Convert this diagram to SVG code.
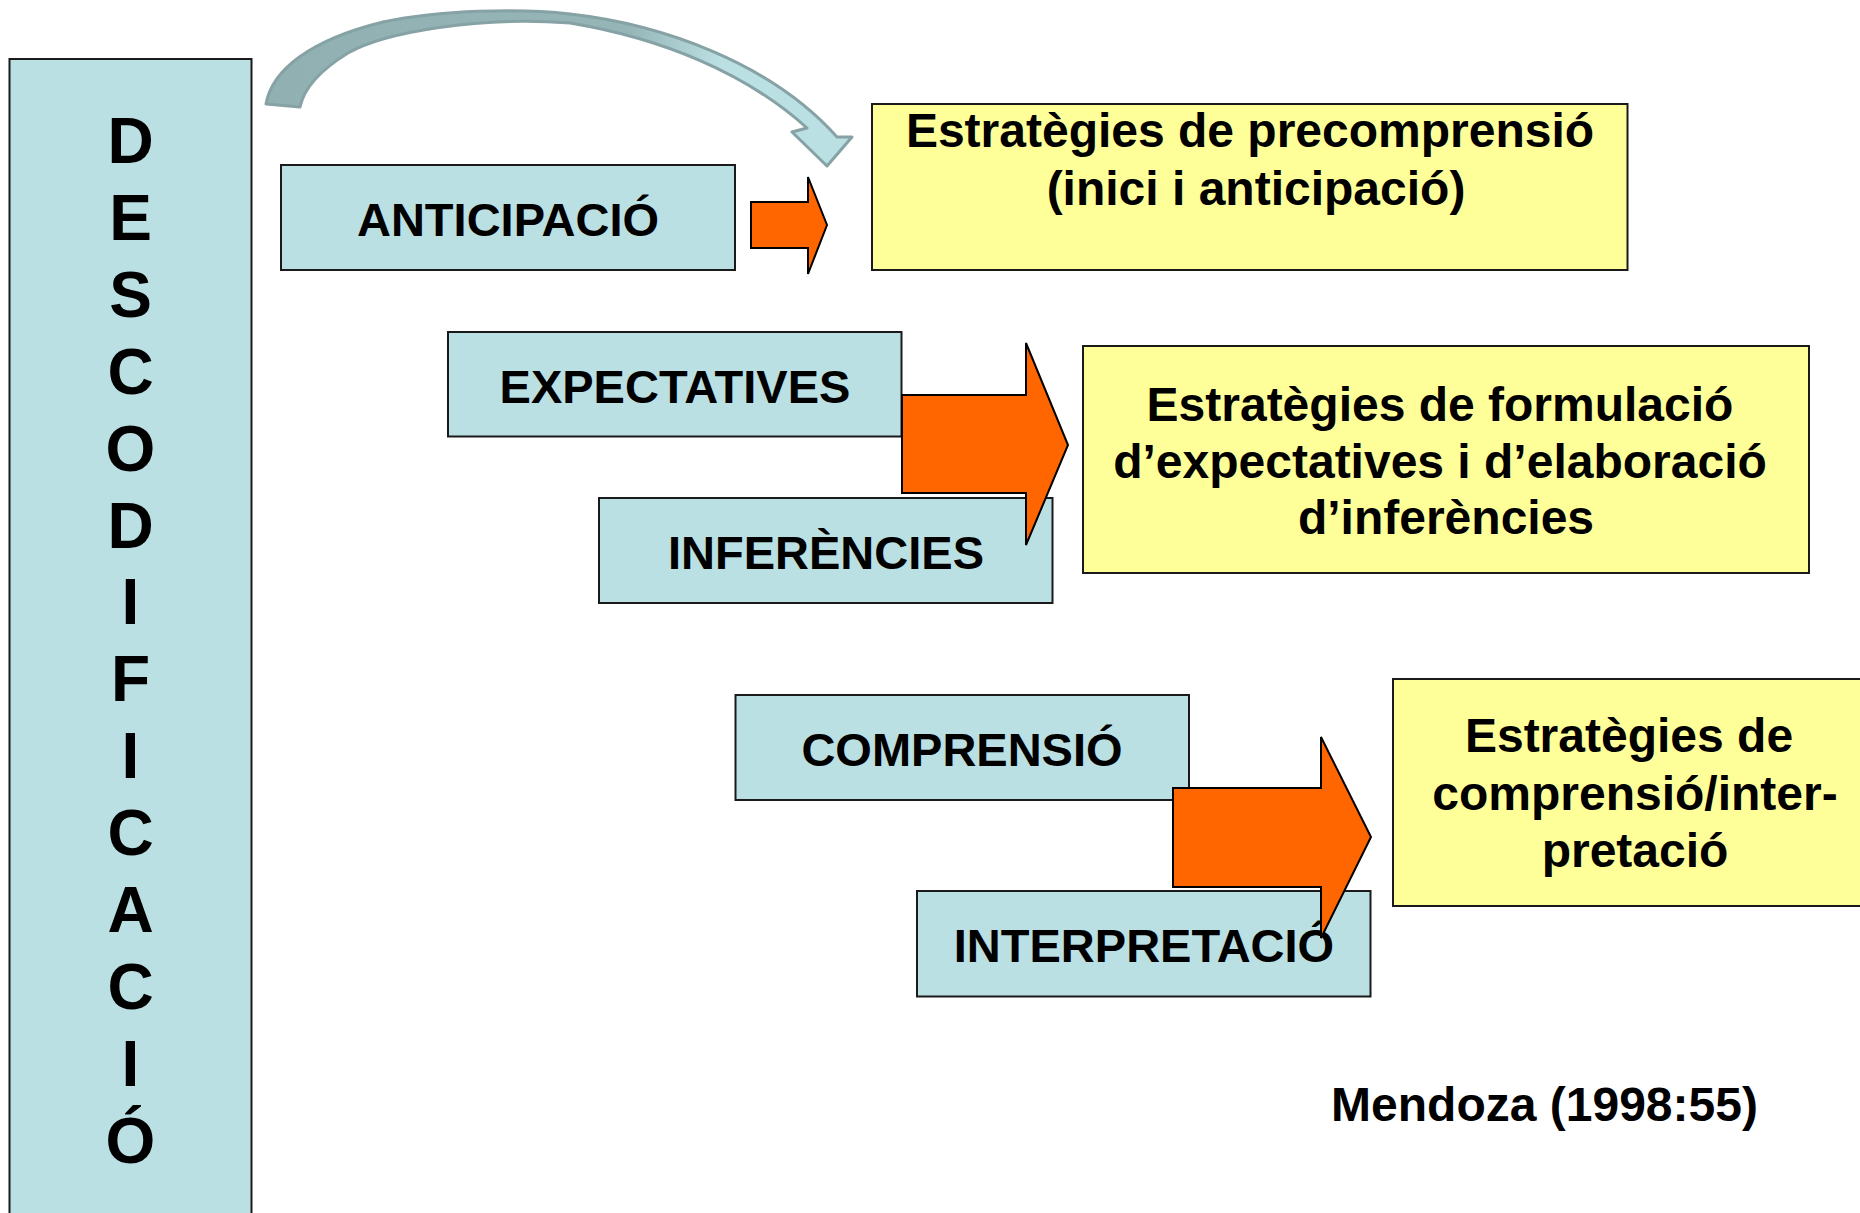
<svg xmlns="http://www.w3.org/2000/svg" width="1860" height="1213" viewBox="0 0 1860 1213">
<defs>
<style>
.blue{fill:#BBE0E3;stroke:#1a1a1a;stroke-width:2}
.yel{fill:#FFFF99;stroke:#1a1a1a;stroke-width:2}
.orng{fill:#FF6600;stroke:#000;stroke-width:2;stroke-linejoin:miter}
.t{font-family:"Liberation Sans",Arial,sans-serif;font-weight:bold;fill:#000;text-anchor:middle}
.b{font-size:47px}
.y{font-size:48px}
.v{font-size:64px}
</style>
<linearGradient id="curveGrad" gradientUnits="userSpaceOnUse" x1="266" y1="0" x2="850" y2="0">
<stop offset="0" stop-color="#90B0B2"/>
<stop offset="0.62" stop-color="#95B5B7"/>
<stop offset="0.78" stop-color="#BBE0E3"/>
<stop offset="1" stop-color="#BBE0E3"/>
</linearGradient>
</defs>
<rect width="1860" height="1213" fill="#fff"/>

<g id="descodificacio">
<rect class="blue" x="9.5" y="59" width="242" height="1170"/>
<text class="t v" x="130.5" y="163">D</text>
<text class="t v" x="130.5" y="240">E</text>
<text class="t v" x="130.5" y="317">S</text>
<text class="t v" x="130.5" y="394">C</text>
<text class="t v" x="130.5" y="471">O</text>
<text class="t v" x="130.5" y="548">D</text>
<text class="t v" x="130.5" y="624">I</text>
<text class="t v" x="130.5" y="701">F</text>
<text class="t v" x="130.5" y="778">I</text>
<text class="t v" x="130.5" y="855">C</text>
<text class="t v" x="130.5" y="932">A</text>
<text class="t v" x="130.5" y="1009">C</text>
<text class="t v" x="130.5" y="1086">I</text>
<text class="t v" x="130.5" y="1163">Ó</text>
</g>

<g id="anticipacio">
<rect class="blue" x="281" y="165" width="454" height="105"/>
<text class="t b" x="508" y="236">ANTICIPACIÓ</text>
</g>

<g id="expectatives">
<rect class="blue" x="448" y="332" width="453.5" height="104.5"/>
<text class="t b" x="675" y="403">EXPECTATIVES</text>
</g>

<g id="inferencies">
<rect class="blue" x="599" y="498" width="453.5" height="105"/>
<text class="t b" x="826" y="569">INFERÈNCIES</text>
</g>

<g id="comprensio">
<rect class="blue" x="735.5" y="695" width="453.5" height="105"/>
<text class="t b" x="962" y="766">COMPRENSIÓ</text>
</g>

<g id="interpretacio">
<rect class="blue" x="917" y="891" width="453.5" height="105.5"/>
<text class="t b" x="1144" y="962">INTERPRETACIÓ</text>
</g>

<g id="precomprensio">
<rect class="yel" x="872" y="104" width="755.5" height="166"/>
<text class="t y" x="1250" y="147">Estratègies de precomprensió</text>
<text class="t y" x="1256" y="205">(inici i anticipació)</text>
</g>

<g id="formulacio">
<rect class="yel" x="1083" y="346" width="726" height="227"/>
<text class="t y" x="1440" y="421">Estratègies de formulació</text>
<text class="t y" x="1440" y="478">d’expectatives i d’elaboració</text>
<text class="t y" x="1446" y="534">d’inferències</text>
</g>

<g id="interpretacio-estrategies">
<rect class="yel" x="1393" y="679" width="480" height="227"/>
<text class="t y" x="1629" y="752">Estratègies de</text>
<text class="t y" x="1635" y="809.5">comprensió/inter-</text>
<text class="t y" x="1635" y="867">pretació</text>
</g>

<g id="cita">
<text class="t y" x="1544.5" y="1121">Mendoza (1998:55)</text>
</g>

<g id="connectors">
<path d="M 266,104 C 272,70 310,40 383,22 C 440,10 520,8 570,14 C 660,24 770,62 837,137 L 852,137 L 827,166 L 792,132 L 807,128 C 745,72 660,38 570,23 C 480,16 385,32 348,53 C 322,69 304,88 300,107 Z" fill="url(#curveGrad)" stroke="#86A2A5" stroke-width="3" stroke-linejoin="round"/>
<polygon class="orng" points="751,202 808,202 808,177 827,225 808,274 808,248 751,248"/>
<polygon class="orng" points="902,395 1026,395 1026,343 1068,445 1026,545 1026,493 902,493"/>
<polygon class="orng" points="1173,788 1321,788 1321,737 1371,837 1321,938 1321,887 1173,887"/>
</g>
</svg>
